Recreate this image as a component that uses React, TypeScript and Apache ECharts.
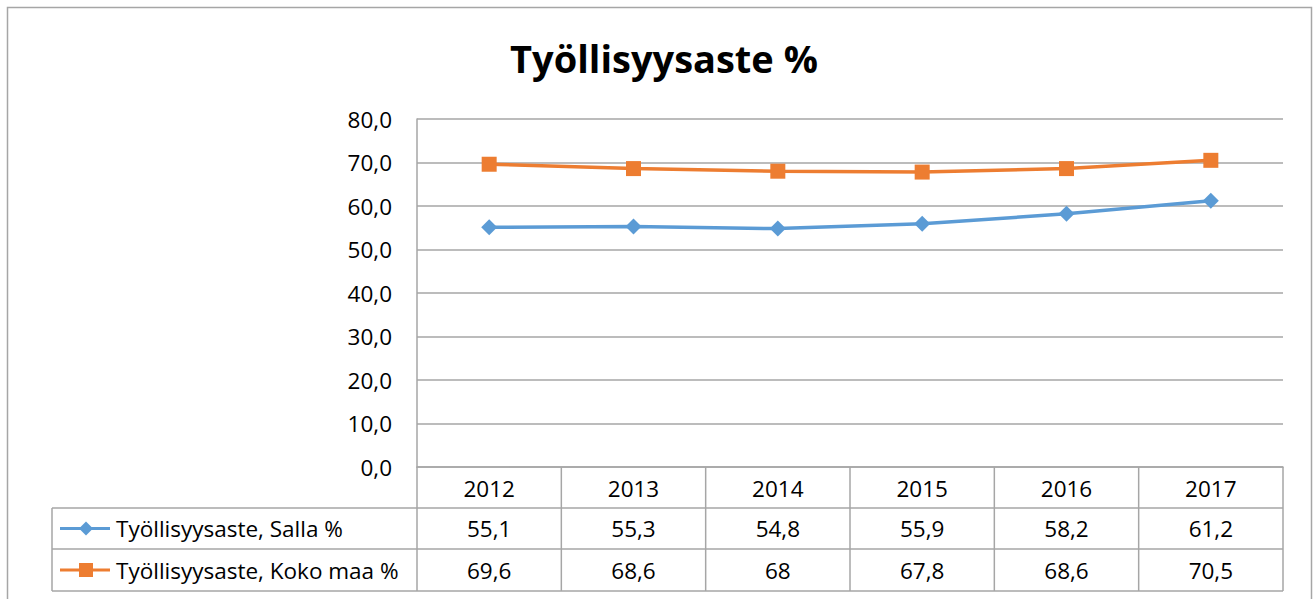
import React, { useEffect, useRef } from "react";
import * as echarts from "echarts";

const years = ["2012", "2013", "2014", "2015", "2016", "2017"];
const sallaName = "Työllisyysaste, Salla %";
const kokoName = "Työllisyysaste, Koko maa %";
const salla = [55.1, 55.3, 54.8, 55.9, 58.2, 61.2];
const koko = [69.6, 68.6, 68, 67.8, 68.6, 70.5];
const titleText = "Työllisyysaste %";

const BLUE = "#5B9BD5";
const ORANGE = "#ED7D31";
const GRAY = "#A6A6A6";
const FONT = "'Open Sans', Lato, sans-serif";
const FS = 22.5;

const W = 1315;
const H = 599;
const gridLeft = 417;
const gridRight = 1283;
const gridTop = 119;
const gridBottom = 467;
const row1 = 508;
const row2 = 549;
const row3 = 591;
const tableLeft = 52;

const fmt = (v: number) => String(v).replace(".", ",");

export default function App() {
  const ref = useRef<HTMLDivElement>(null);
  useEffect(() => {
    if (!ref.current) return;
    const chart = echarts.init(ref.current, undefined, { renderer: "svg" });
    const colW = (gridRight - gridLeft) / years.length;
    const lineStyle = { stroke: GRAY, lineWidth: 1.5 };
    const g: any[] = [];
    g.push({ type: "rect", shape: { x: 7.5, y: 7.5, width: 1304, height: 600 }, style: { fill: "none", stroke: GRAY, lineWidth: 1.5 }, silent: true });
    [row1, row2, row3].forEach((y) => {
      g.push({ type: "line", shape: { x1: tableLeft, y1: y, x2: gridRight, y2: y }, style: lineStyle });
    });
    g.push({ type: "line", shape: { x1: tableLeft, y1: row1, x2: tableLeft, y2: row3 }, style: lineStyle });
    for (let i = 0; i <= years.length; i++) {
      const x = gridLeft + colW * i;
      g.push({ type: "line", shape: { x1: x, y1: gridBottom, x2: x, y2: row3 }, style: lineStyle });
    }
    const rows = [
      { data: salla, y: (row1 + row2) / 2, name: sallaName, color: BLUE, sym: "diamond" },
      { data: koko, y: (row2 + row3) / 2, name: kokoName, color: ORANGE, sym: "square" },
    ];
    rows.forEach((r) => {
      r.data.forEach((v, i) => {
        g.push({
          type: "text",
          x: gridLeft + colW * (i + 0.5),
          y: r.y,
          style: { text: fmt(v), font: `${FS}px ${FONT}`, fill: "#000", align: "center", verticalAlign: "middle" },
        });
      });
      g.push({ type: "line", shape: { x1: 60, y1: r.y, x2: 110, y2: r.y }, style: { stroke: r.color, lineWidth: 3 } });
      if (r.sym === "diamond") {
        g.push({ type: "polygon", shape: { points: [[86, r.y - 7], [93, r.y], [86, r.y + 7], [79, r.y]] }, style: { fill: r.color } });
      } else {
        g.push({ type: "rect", shape: { x: 79, y: r.y - 7, width: 14, height: 14 }, style: { fill: r.color } });
      }
      g.push({
        type: "text",
        x: 116,
        y: r.y,
        style: { text: r.name, font: `${FS}px ${FONT}`, fill: "#000", align: "left", verticalAlign: "middle" },
      });
    });

    chart.setOption({
      animation: false,
      title: {
        text: titleText,
        left: 659,
        top: 34,
        textAlign: "center",
        textStyle: { fontSize: 38, fontWeight: "bold", fontFamily: FONT, color: "#000" },
      },
      grid: { left: gridLeft, right: W - gridRight, top: gridTop, bottom: H - gridBottom, containLabel: false },
      xAxis: {
        type: "category",
        data: years,
        boundaryGap: true,
        axisLine: { show: true, lineStyle: { color: GRAY, width: 1.5 } },
        axisTick: { show: false },
        axisLabel: { margin: 10, fontSize: FS, fontFamily: FONT, color: "#000" },
      },
      yAxis: {
        type: "value",
        min: 0,
        max: 80,
        interval: 10,
        axisLine: { show: true, lineStyle: { color: GRAY, width: 1.5 } },
        axisTick: { show: false },
        axisLabel: { margin: 25, fontSize: FS, fontFamily: FONT, color: "#000", formatter: (v: number) => v.toFixed(1).replace(".", ",") },
        splitLine: { lineStyle: { color: GRAY, width: 1.5 } },
      },
      series: [
        {
          name: sallaName,
          type: "line",
          data: salla,
          symbol: "diamond",
          symbolSize: 16,
          lineStyle: { color: BLUE, width: 3.5 },
          itemStyle: { color: BLUE },
        },
        {
          name: kokoName,
          type: "line",
          data: koko,
          symbol: "rect",
          symbolSize: 15,
          lineStyle: { color: ORANGE, width: 3.5 },
          itemStyle: { color: ORANGE },
        },
      ],
      graphic: g,
    });
    return () => chart.dispose();
  }, []);
  return <div ref={ref} style={{ position: "absolute", left: 0, top: 0, width: W, height: H }} />;
}
